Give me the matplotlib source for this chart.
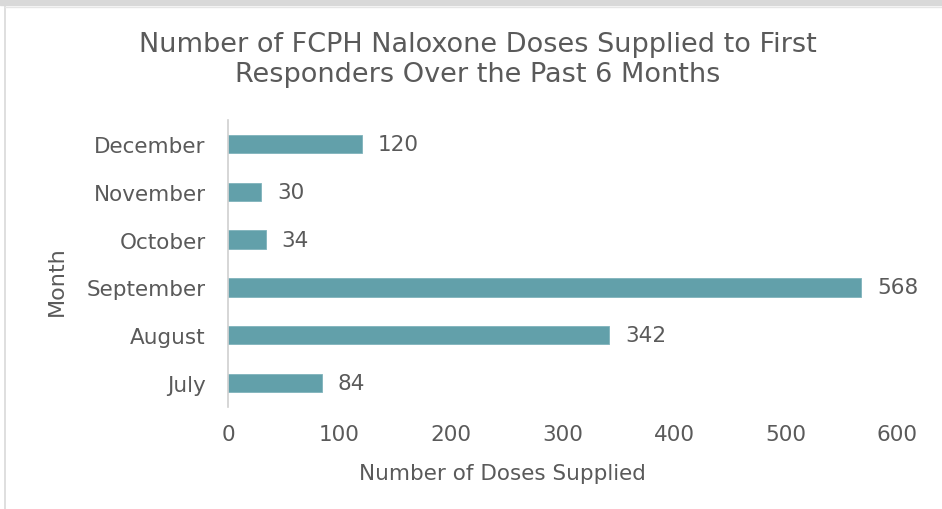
import matplotlib
matplotlib.use("Agg")
import matplotlib.pyplot as plt
from matplotlib.patches import Rectangle
from matplotlib.lines import Line2D

months = ["July", "August", "September", "October", "November", "December"]
doses = [84, 342, 568, 34, 30, 120]
xticks = [0, 100, 200, 300, 400, 500, 600]

plt.rcParams['font.family'] = ['DejaVu Sans']
txt = '#5a5a5a'
bar_color = '#62a0aa'

fig = plt.figure(figsize=(9.42, 5.10), dpi=100)
W, H = 942, 510
ax = fig.add_axes([228 / W, 1 - 408 / H, (897 - 228) / W, (408 - 121) / H])

y = list(range(len(months)))
ax.barh(y, doses, height=0.38, color=bar_color, edgecolor='#7fb3bb', linewidth=0.6)
for yi, v in zip(y, doses):
    ax.text(v + 14, yi, str(v), va='center', ha='left', fontsize=15.5, color=txt)

ax.set_xlim(0, 600)
ax.set_ylim(-0.5, len(months) - 0.5)
ax.set_yticks(y)
ax.set_yticklabels(months)
ax.set_xticks(xticks)
ax.tick_params(axis='both', length=0, labelsize=15.5, labelcolor=txt)
ax.tick_params(axis='y', pad=16)
ax.tick_params(axis='x', pad=12)
for s in ['top', 'right', 'bottom']:
    ax.spines[s].set_visible(False)
ax.spines['left'].set_color('#d0d0d0')
ax.spines['left'].set_linewidth(1.2)

fig.text(502 / W, 1 - 474 / H, "Number of Doses Supplied", ha='center', va='center', fontsize=15.5, color=txt)
fig.text(57 / W, 1 - 281 / H, "Month", ha='center', va='center', rotation=90, fontsize=16, color=txt)
fig.text(478 / W, 1 - 60 / H, "Number of FCPH Naloxone Doses Supplied to First\nResponders Over the Past 6 Months",
         ha='center', va='center', fontsize=19.5, color=txt, linespacing=1.22)

# frame
fig.patches.append(Rectangle((0, 1 - 6 / H), 1, 6 / H, transform=fig.transFigure, color='#d9d9d9', zorder=0))
fig.lines.append(Line2D([5 / W, 5 / W], [0, 1 - 7 / H], transform=fig.transFigure, color='#d9d9d9', linewidth=1.2))
fig.lines.append(Line2D([5 / W, 1], [1 - 7.5 / H, 1 - 7.5 / H], transform=fig.transFigure, color='#e6e6e6', linewidth=1))

fig.savefig("out.png", dpi=100)
